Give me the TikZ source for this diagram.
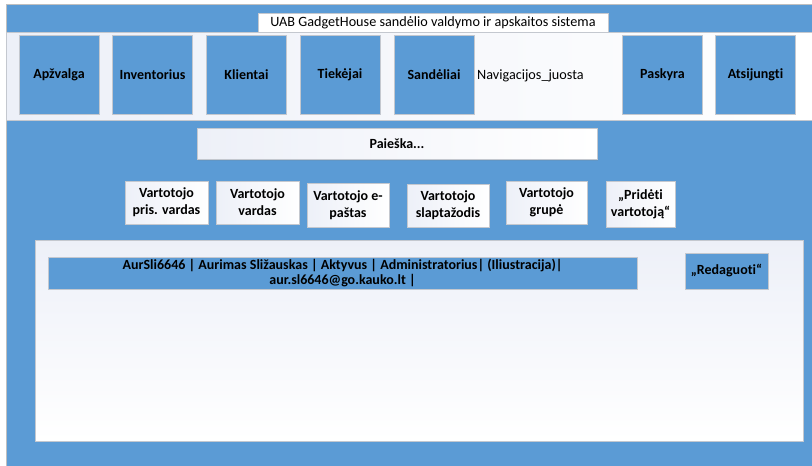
\documentclass[tikz,border=0pt]{standalone}
\usepackage{fontspec}
\setmainfont{Carlito}[Ligatures=NoCommon]
\usetikzlibrary{shadows}
\definecolor{ublue}{HTML}{5B9BD5}
\definecolor{ublueL}{HTML}{EDF0F8}
\definecolor{bord}{HTML}{C4C8CF}
\tikzset{
  fnt/.style={font=\fontsize{14.2}{17}\selectfont},
  bfnt/.style={font=\bfseries\fontsize{14}{17}\selectfont},
  shd/.style={drop shadow={shadow xshift=0.8pt,shadow yshift=-1.2pt,opacity=0.18}},
  navbtn/.style={draw=bord, line width=0.6pt, fill=ublue, minimum width=80pt, minimum height=79pt, inner sep=0pt, bfnt, shd},
  whitebox/.style={draw=bord, line width=0.5pt, left color=ublueL, right color=white, inner sep=0pt, align=center, bfnt, shd},
  bluebox/.style={draw=bord, line width=0.6pt, fill=ublue, inner sep=0pt, align=center, shd},
}
\begin{document}
\begin{tikzpicture}[x=1pt,y=-1pt]
\useasboundingbox (0,0) rectangle (812,466);
\fill[white] (0,0) rectangle (812,466);
% outer frame
\node[draw=black!25, line width=0.8pt, fill=ublue, inner sep=0pt, minimum width=808pt, minimum height=463pt] (frame) at (410,235.5) {};
% title
\node[draw=bord, line width=0.5pt, fill=white, inner sep=0pt, minimum width=350pt, minimum height=19pt, fnt] (title) at (433,22.5) {UAB GadgetHouse sandėlio valdymo ir apskaitos sistema};
% navigation band
\node[draw=bord, line width=0.6pt, left color=ublueL, right color=white, inner sep=0pt, minimum width=808pt, minimum height=88pt] (nav) at (410,76) {};
\node[navbtn] (b1) at (59,74.5) {Apžvalga};
\node[navbtn] (b2) at (152.5,74.5) {Inventorius};
\node[navbtn] (b3) at (246.5,74.5) {Klientai};
\node[navbtn] (b4) at (340,74.5) {Tiekėjai};
\node[navbtn] (b5) at (434,74.5) {Sandėliai};
\node[fnt, anchor=west, inner sep=0pt] (navlbl) at (477,76) {Navigacijos\_juosta};
\node[navbtn] (b6) at (662.5,74.5) {Paskyra};
\node[navbtn] (b7) at (755.5,74.5) {Atsijungti};
% search
\node[whitebox, minimum width=400pt, minimum height=31.5pt] (search) at (397,143.75) {Paieška...};
% fields
\node[whitebox, minimum width=83pt, minimum height=43pt] (f1) at (166.5,202.5) {Vartotojo\\pris. vardas};
\node[whitebox, minimum width=83pt, minimum height=43pt] (f2) at (257.5,202.5) {Vartotojo\\vardas};
\node[whitebox, minimum width=82pt, minimum height=43.5pt] (f3) at (348,205.25) {Vartotojo e-\\paštas};
\node[whitebox, minimum width=82pt, minimum height=43pt] (f4) at (448,205.5) {Vartotojo\\slaptažodis};
\node[whitebox, minimum width=81pt, minimum height=43pt] (f5) at (546.5,202.5) {Vartotojo\\grupė};
\node[whitebox, minimum width=69pt, minimum height=46pt] (f6) at (640.5,204) {„Pridėti\\vartotoją“};
% panel
\node[draw=bord, line width=0.5pt, shading=axis, shading angle=-60, top color=ublueL, bottom color=white, inner sep=0pt, minimum width=768pt, minimum height=201pt] (panel) at (419,340.5) {};
% record row
\node[bluebox, minimum width=589pt, minimum height=32pt, font=\bfseries\fontsize{14}{15.5}\selectfont] (rec) at (342.5,273) {AurSli6646 | Aurimas Sližauskas | Aktyvus | Administratorius| (Iliustracija)|\\aur.sl6646@go.kauko.lt |};
\node[bluebox, minimum width=83pt, minimum height=36pt, bfnt] (edit) at (726.5,271) {„Redaguoti“};
\end{tikzpicture}
\end{document}
